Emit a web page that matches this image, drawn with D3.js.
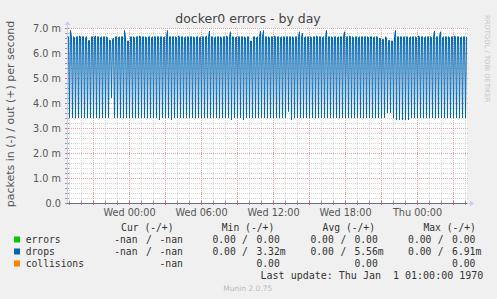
<!DOCTYPE html>
<html>
<head>
<meta charset="utf-8">
<script src="https://cdn.jsdelivr.net/npm/d3@7"></script>
<style>
  body { margin: 0; background: #f0f0f0; }
  svg { display: block; font-family: "DejaVu Sans", sans-serif; }
  .mono { font-family: "DejaVu Sans Mono", monospace; font-size: 9.7px; fill: #333; white-space: pre; }
</style>
</head>
<body>
<svg id="chart"></svg>
<script>
// Chart texts
const title = "docker0 errors - by day";
const yLabel = "packets in (-) / out (+) per second";

// Axis ticks
const yTickValues = [0, 1, 2, 3, 4, 5, 6, 7];
const yTickLabels = ["0.0", "1.0 m", "2.0 m", "3.0 m", "4.0 m", "5.0 m", "6.0 m", "7.0 m"];
const xTickTimes = [new Date(2024, 0, 3, 0, 0), new Date(2024, 0, 3, 6, 0), new Date(2024, 0, 3, 12, 0),
                    new Date(2024, 0, 3, 18, 0), new Date(2024, 0, 4, 0, 0)];
const xTickLabels = ["Wed 00:00", "Wed 06:00", "Wed 12:00", "Wed 18:00", "Thu 00:00"];

// Time window and sampling (5 minute samples)
const windowStart = new Date(2024, 0, 2, 18, 50);
const windowEnd = new Date(2024, 0, 4, 4, 10);
const sampleMinutes = 5;

// drops out, in milli packets per second (one value per 5 minute sample)
const drops = [
  6.65,6.65,3.40, 6.90,6.65,3.40, 6.65,6.62,3.40, 6.65,6.65,3.40, 6.68,6.65,3.40, 6.65,6.65,3.40, 6.62,6.65,3.40, 6.50,6.50,3.40, 6.65,6.65,3.40, 6.65,6.68,3.40,
  6.65,6.65,3.40, 6.62,6.65,3.40, 6.65,6.65,3.40, 6.65,6.62,3.40, 6.52,6.50,4.20, 6.55,6.60,3.40, 6.65,6.65,3.40, 6.62,6.65,3.40, 6.65,6.65,3.40, 6.90,6.65,3.40,
  6.48,6.48,3.40, 6.65,6.65,3.40, 6.65,6.62,3.40, 6.65,6.65,3.40, 6.68,6.65,3.40, 6.65,6.65,3.40, 6.65,6.62,3.40, 6.65,6.65,3.40, 6.62,6.65,3.40, 6.65,6.65,3.40,
  6.65,6.65,3.32, 6.65,6.65,3.40, 6.62,6.65,3.40, 6.65,6.90,3.40, 6.65,6.65,3.32, 6.65,6.65,3.40, 6.65,6.62,3.40, 6.68,6.65,3.40, 6.65,6.65,3.40, 6.62,6.65,3.40,
  6.65,6.65,3.40, 6.65,6.65,3.40, 6.65,6.62,3.40, 6.65,6.65,3.40, 6.62,6.65,3.40, 6.65,6.65,3.40, 6.65,6.68,3.40, 6.65,6.88,3.40, 6.65,6.65,3.40, 6.62,6.65,3.40,
  6.65,6.65,3.40, 6.65,6.62,3.40, 6.65,6.65,3.40, 6.68,6.65,3.40, 6.65,6.85,3.32, 6.65,6.65,3.40, 6.62,6.65,3.40, 6.65,6.65,3.40, 6.65,6.65,3.32, 6.65,6.62,3.40,
  6.65,6.65,3.40, 6.48,6.48,3.40, 6.65,6.65,3.40, 6.62,6.65,3.40, 6.65,6.88,3.40, 6.65,6.90,3.40, 6.65,6.65,3.40, 6.65,6.62,3.40, 6.65,6.65,3.40, 6.68,6.65,3.40,
  6.65,6.65,3.40, 6.62,6.65,3.40, 6.65,6.65,3.40, 6.65,6.65,3.66, 6.65,6.65,3.32, 6.65,6.62,3.40, 6.65,6.65,3.40, 6.65,6.85,3.40, 6.65,6.80,3.40, 6.62,6.65,3.40,
  6.65,6.65,3.40, 6.65,6.62,3.40, 6.65,6.65,3.40, 6.68,6.65,3.40, 6.65,6.65,3.40, 6.62,6.65,3.40, 6.65,6.91,3.40, 6.65,6.65,3.40, 6.65,6.62,3.40, 6.65,6.65,3.40,
  6.62,6.65,3.40, 6.65,6.65,3.40, 6.65,6.85,3.40, 6.65,6.65,3.40, 6.68,6.65,3.40, 6.65,6.62,3.40, 6.65,6.65,3.40, 6.62,6.65,3.40, 6.65,6.65,3.40, 6.65,6.65,3.40,
  6.65,6.62,3.40, 6.65,6.65,3.40, 6.62,6.65,3.40, 6.65,6.65,3.40, 6.60,6.58,3.40, 6.55,6.55,3.40, 6.65,6.60,3.60, 6.50,6.50,3.62, 6.48,6.48,3.40, 6.65,6.90,3.32,
  6.65,6.65,3.32, 6.65,6.65,3.32, 6.65,6.65,3.32, 6.65,6.65,3.32, 6.62,6.65,3.40, 6.65,6.65,3.40, 6.65,6.62,3.40, 6.68,6.65,3.40, 6.65,6.65,3.40, 6.62,6.65,3.40,
  6.65,6.65,3.40, 6.65,6.62,3.40, 6.65,6.88,3.40, 6.65,6.65,3.40, 6.65,6.85,3.40, 6.62,6.65,3.40, 6.65,6.65,3.40, 6.65,6.62,3.40, 6.65,6.65,3.40, 6.68,6.65,3.40,
  6.65,6.65,3.40, 6.62,6.65,3.40, 6.65,6.65,3.40,
  6.65
];

// Legend
const legendNames = ["errors", "drops", "collisions"];
const legendColors = ["#00cc00", "#0066b3", "#ff8000"];
const legendHeaders = ["Cur (-/+)", "Min (-/+)", "Avg (-/+)", "Max (-/+)"];
const curIn  = ["-nan", "-nan", ""];
const curOut = ["-nan", "-nan", "-nan"];
const minIn  = ["0.00", "0.00", ""];
const minOut = ["0.00", "3.32m", "0.00"];
const avgIn  = ["0.00", "0.00", ""];
const avgOut = ["0.00", "5.56m", "0.00"];
const maxIn  = ["0.00", "0.00", ""];
const maxOut = ["0.00", "6.91m", "0.00"];
const lastUpdate = "Last update: Thu Jan  1 01:00:00 1970";
const footer = "Munin 2.0.75";
const watermark = "RRDTOOL / TOBI OETIKER";

const W = 497, H = 299;
const plot = { left: 67, right: 467, top: 28, bottom: 203 };

const svg = d3.select("#chart").attr("width", W).attr("height", H);

svg.append("rect").attr("width", W).attr("height", H).attr("fill", "#f0f0f0");
svg.append("rect")
    .attr("x", plot.left).attr("y", plot.top)
    .attr("width", plot.right - plot.left).attr("height", plot.bottom - plot.top)
    .attr("fill", "#ffffff");

const x = d3.scaleTime().domain([windowStart, windowEnd]).range([plot.left, plot.right]);
const y = d3.scaleLinear().domain([0, 7]).range([plot.bottom, plot.top]);

const crisp = v => Math.round(v) + 0.5;

// Grid: minor first, major on top
const grid = svg.append("g");
const minorX = x.ticks(d3.timeHour.every(1));
const majorX = x.ticks(d3.timeHour.every(3));
const minorY = y.ticks(35);
const majorY = y.ticks(7);

grid.selectAll(".mxv").data(minorX).enter().append("line")
    .attr("x1", d => crisp(x(d))).attr("x2", d => crisp(x(d)))
    .attr("y1", plot.top).attr("y2", plot.bottom)
    .attr("stroke", "#d4d4d4").attr("stroke-dasharray", "1,1");
grid.selectAll(".mxh").data(minorY).enter().append("line")
    .attr("x1", plot.left).attr("x2", plot.right + 1)
    .attr("y1", d => crisp(y(d))).attr("y2", d => crisp(y(d)))
    .attr("stroke", "#d4d4d4").attr("stroke-dasharray", "1,1");
grid.selectAll(".Mxv").data(majorX).enter().append("line")
    .attr("x1", d => crisp(x(d))).attr("x2", d => crisp(x(d)))
    .attr("y1", plot.top).attr("y2", plot.bottom)
    .attr("stroke", "#eea0a0").attr("stroke-dasharray", "1,1");
grid.selectAll(".Mxh").data(majorY).enter().append("line")
    .attr("x1", plot.left).attr("x2", plot.right + 1)
    .attr("y1", d => crisp(y(d))).attr("y2", d => crisp(y(d)))
    .attr("stroke", "#eea0a0").attr("stroke-dasharray", "1,1");

// small tick marks on the axes
grid.selectAll(".ty").data(minorY).enter().append("line")
    .attr("x1", plot.left - 2).attr("x2", plot.left + 2)
    .attr("y1", d => crisp(y(d))).attr("y2", d => crisp(y(d)))
    .attr("stroke", d => majorY.includes(d) ? "#e07070" : "#999");
grid.selectAll(".tx").data(minorX).enter().append("line")
    .attr("x1", d => crisp(x(d))).attr("x2", d => crisp(x(d)))
    .attr("y1", plot.bottom - 2).attr("y2", plot.bottom + 2)
    .attr("stroke", d => majorX.some(m => +m === +d) ? "#e07070" : "#999");

// Axis lines with arrows
svg.append("line")
    .attr("x1", plot.left + 0.5).attr("x2", plot.left + 0.5)
    .attr("y1", plot.bottom).attr("y2", plot.top - 5)
    .attr("stroke", "#c8ccf2");
svg.append("path")
    .attr("d", `M${plot.left - 2.5},${plot.top - 3} L${plot.left + 0.5},${plot.top - 7} L${plot.left + 3.5},${plot.top - 3} Z`)
    .attr("fill", "#c8ccf2");
svg.append("line")
    .attr("x1", plot.left).attr("x2", plot.right + 4)
    .attr("y1", plot.bottom + 0.5).attr("y2", plot.bottom + 0.5)
    .attr("stroke", "#c8ccf2");
svg.append("path")
    .attr("d", `M${plot.right + 3},${plot.bottom - 2.5} L${plot.right + 7},${plot.bottom + 0.5} L${plot.right + 3},${plot.bottom + 3.5} Z`)
    .attr("fill", "#c8ccf2");

// zero lines of the "in" series sit on the x axis
svg.append("line")
    .attr("x1", plot.left).attr("x2", plot.right)
    .attr("y1", crisp(y(0))).attr("y2", crisp(y(0)))
    .attr("stroke", "#6c6c84");

// Data line
const points = drops.map((v, i) => ({ t: d3.timeMinute.offset(windowStart, i * sampleMinutes), v: v }));
const line = d3.line().x(d => x(d.t) + 0.5).y(d => y(d.v));
svg.append("path")
    .datum(points)
    .attr("d", line)
    .attr("fill", "none")
    .attr("stroke", "#0066b3")
    .attr("stroke-width", 1);

// Y axis labels
const yAxis = svg.append("g")
    .attr("transform", `translate(${plot.left},0)`)
    .call(d3.axisLeft(y).tickValues(yTickValues).tickFormat((d, i) => yTickLabels[i]).tickSize(0).tickPadding(6));
yAxis.select(".domain").remove();
yAxis.selectAll("text")
    .attr("dy", "0.36em")
    .style("font-family", "DejaVu Sans").style("font-size", "9.7px").attr("fill", "#555");

// X axis labels
const xAxis = svg.append("g")
    .attr("transform", `translate(0,${plot.bottom})`)
    .call(d3.axisBottom(x).tickValues(xTickTimes).tickFormat((d, i) => xTickLabels[i]).tickSize(0));
xAxis.select(".domain").remove();
xAxis.selectAll("text")
    .attr("y", 13.4).attr("dy", 0)
    .style("font-family", "DejaVu Sans").style("font-size", "9.7px").attr("fill", "#555");

// Title
svg.append("text")
    .attr("x", 248).attr("y", 22.5)
    .attr("text-anchor", "middle")
    .style("font-size", "12.5px").attr("fill", "#444")
    .text(title);

// Y axis title
svg.append("text")
    .attr("transform", `translate(13.5,114) rotate(-90)`)
    .attr("text-anchor", "middle")
    .style("font-size", "11px").attr("fill", "#555")
    .text(yLabel);

// Watermark
svg.append("text")
    .attr("transform", `translate(484.5,15) rotate(90)`)
    .style("font-size", "6.8px").attr("fill", "#c4c4c4")
    .text(watermark);

// Legend
const headerX = [147.3, 248, 348.8, 449.7];
svg.selectAll(".hdr").data(legendHeaders).enter().append("text")
    .attr("class", "mono")
    .attr("x", (d, i) => headerX[i]).attr("y", 231)
    .attr("text-anchor", "middle")
    .text(d => d);

const cols = [
  { inX: 114.2, slash: 149, outX: 159.5, ins: curIn, outs: curOut },
  { inX: 212.4, slash: 245, outX: 256.4, ins: minIn, outs: minOut },
  { inX: 310.4, slash: 343.3, outX: 354.4, ins: avgIn, outs: avgOut },
  { inX: 408.1, slash: 440.7, outX: 452.1, ins: maxIn, outs: maxOut }
];

legendNames.forEach((name, r) => {
  const base = 243 + r * 12;
  svg.append("rect")
      .attr("x", 14).attr("y", base - 6.5)
      .attr("width", 6).attr("height", 6)
      .attr("fill", legendColors[r]);
  svg.append("text").attr("class", "mono")
      .attr("x", 25.7).attr("y", base).text(name);
  cols.forEach(c => {
    if (c.ins[r] !== "") {
      svg.append("text").attr("class", "mono").attr("x", c.inX).attr("y", base).text(c.ins[r]);
      svg.append("text").attr("class", "mono").attr("x", c.slash).attr("y", base)
          .attr("text-anchor", "middle").text("/");
    }
    svg.append("text").attr("class", "mono").attr("x", c.outX).attr("y", base).text(c.outs[r]);
  });
});

svg.append("text").attr("class", "mono")
    .attr("x", 483.3).attr("y", 279)
    .attr("text-anchor", "end")
    .style("font-size", "10px")
    .text(lastUpdate);

svg.append("text")
    .attr("x", 247.8).attr("y", 291)
    .attr("text-anchor", "middle")
    .style("font-size", "7.5px").attr("fill", "#bbbbbb")
    .text(footer);
</script>
</body>
</html>
